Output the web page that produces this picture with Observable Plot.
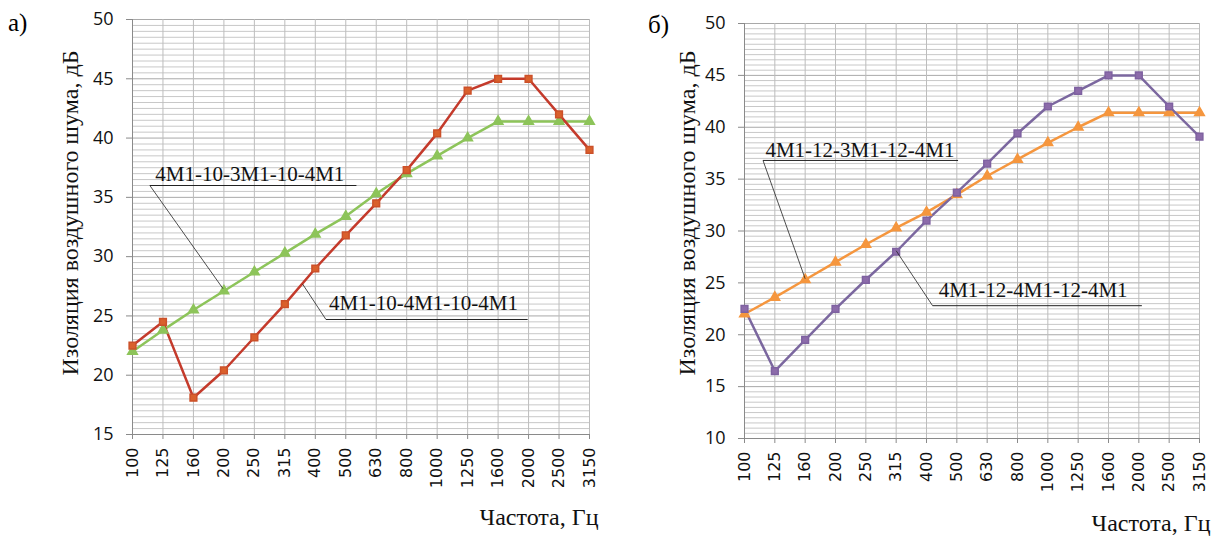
<!DOCTYPE html>
<html>
<head>
<meta charset="utf-8">
<script src="https://cdn.jsdelivr.net/npm/d3@7"></script>
<script src="https://cdn.jsdelivr.net/npm/@observablehq/plot@0.6"></script>
<style>
  html, body { margin: 0; padding: 0; background: #fff; }
  #wrap { position: relative; width: 1216px; height: 538px; overflow: hidden; }
  .panel { position: absolute; top: 0; }
  .letter { position: absolute; font-family: "Liberation Serif", serif; font-size: 25px; line-height: 1; }
  g[aria-label="x-axis tick label"] { font-family: "DejaVu Sans", sans-serif; font-size: 16px; }
  g[aria-label="y-axis tick label"] { font-family: "Open Sans", sans-serif; font-size: 18px; }
</style>
</head>
<body>
<div id="wrap">
  <div class="letter" style="left:8px;top:10px;">а)</div>
  <div class="letter" style="left:648px;top:12px;">б)</div>
  <div id="pa" class="panel" style="left:0px;"></div>
  <div id="pb" class="panel" style="left:608px;"></div>
</div>
<script>
// ---------- data ----------
const freqs = ["100","125","160","200","250","315","400","500","630","800","1000","1250","1600","2000","2500","3150"];

// panel а)
const red4M1_10   = [22.5,24.5,18.1,20.4,23.2,26.0,29.0,31.8,34.5,37.3,40.4,44.0,45.0,45.0,42.0,39.0];
const green3M1_10 = [22.0,23.8,25.5,27.1,28.7,30.3,31.9,33.4,35.3,37.0,38.5,40.0,41.4,41.4,41.4,41.4];
// panel б)
const purple4M1_12 = [22.5,16.5,19.5,22.5,25.3,28.0,31.0,33.7,36.5,39.4,42.0,43.5,45.0,45.0,42.0,39.1];
const orange3M1_12 = [22.0,23.6,25.3,27.0,28.7,30.3,31.8,33.5,35.3,36.9,38.5,40.0,41.4,41.4,41.4,41.4];

const yTicksA = [15,20,25,30,35,40,45,50];
const yTicksB = [10,15,20,25,30,35,40,45,50];

const yTitle = "Изоляция воздушного шума, дБ";
const xTitle = "Частота, Гц";

// annotation labels (data coordinates: x = category index, y = dB)
const notesA = [
  {label:"4M1-10-3M1-10-4M1", tx:0.75, ty:36.4, ux1:0.57, ux2:7.35,  uy:36.0, px:2.97, py:27.3},
  {label:"4M1-10-4M1-10-4M1", tx:6.45, ty:25.5, ux1:6.35, ux2:12.97, uy:24.7, px:5.58, py:27.7}
];
const notesB = [
  {label:"4M1-12-3M1-12-4M1", tx:0.69, ty:37.1, ux1:0.61, ux2:7.04, uy:36.8, px:2.0, py:25.4},
  {label:"4M1-12-4M1-12-4M1", tx:6.4,  ty:23.6, ux1:6.2,  ux2:13.1, uy:22.8, px:5.0, py:28.1}
];

function panel(cfg) {
  const idx = d3.range(freqs.length);
  const lo = cfg.ticks[0], hi = cfg.ticks[cfg.ticks.length - 1];
  const minor = d3.range(lo, hi + 0.001, 0.5).filter(v => !cfg.ticks.includes(v));
  const serif = "Liberation Serif, serif";
  return Plot.plot({
    width: 608, height: 538,
    marginLeft: cfg.ml, marginRight: cfg.mr, marginTop: cfg.mt, marginBottom: cfg.mb,
    style: {fontFamily: "Open Sans", fontSize: "18px", background: "transparent", overflow: "visible"},
    x: {type: "linear", domain: [0, freqs.length - 1]},
    y: {domain: [lo, hi]},
    marks: [
      Plot.ruleY(minor, {stroke: "#c8c8c8", strokeWidth: 1}),
      Plot.ruleY(cfg.ticks, {stroke: "#a9a9a9", strokeWidth: 1}),
      Plot.ruleX(idx, {stroke: "#bdbdbd", strokeWidth: 1}),
      Plot.ruleX([0], {stroke: "#8a8a8a", strokeWidth: 1}),
      Plot.ruleY([lo], {stroke: "#8a8a8a", strokeWidth: 1}),
      Plot.axisY({ticks: cfg.ticks, tickSize: 6, tickPadding: 13, stroke: "#8a8a8a", fill: "#111", label: null}),
      Plot.axisX({ticks: idx, tickFormat: i => freqs[i], tickRotate: -90, tickSize: 5, tickPadding: 8,
                  stroke: "#8a8a8a", fill: "#111", label: null}),
      // series
      Plot.line(cfg.s2, {x: (d, i) => i, y: d => d, stroke: cfg.c2, strokeWidth: 2.5}),
      Plot.line(cfg.s1, {x: (d, i) => i, y: d => d, stroke: cfg.c1, strokeWidth: 2.5}),
      Plot.dot(cfg.s2, {x: (d, i) => i, y: d => d, symbol: "triangle", r: 3.6, fill: cfg.m2, stroke: cfg.m2}),
      Plot.dot(cfg.s1, {x: (d, i) => i, y: d => d, symbol: "square", r: 3.8, fill: cfg.m1, stroke: cfg.m1s}),
      // annotations
      Plot.link(cfg.notes, {x1: "ux1", x2: "ux2", y1: "uy", y2: "uy", stroke: "#222", strokeWidth: 1}),
      Plot.link(cfg.notes, {x1: "ux1", y1: "uy", x2: "px", y2: "py", stroke: "#222", strokeWidth: 0.8}),
      Plot.text(cfg.notes, {x: "tx", y: "ty", text: "label", textAnchor: "start", lineAnchor: "bottom",
                            fontFamily: serif, fontSize: 21, fill: "#111"}),
      // axis titles
      Plot.text([yTitle], {frameAnchor: "left", dx: cfg.ytdx, dy: cfg.ytdy, rotate: -90,
                           textAnchor: "middle", lineAnchor: "middle",
                           fontFamily: serif, fontSize: 24, fill: "#111"}),
      Plot.text([xTitle], {frameAnchor: "bottom-right", dx: cfg.xtdx, dy: cfg.xtdy, textAnchor: "end",
                           lineAnchor: "bottom", fontFamily: serif, fontSize: 24, fill: "#111"})
    ]
  });
}

document.getElementById("pa").appendChild(panel({
  ticks: yTicksA, ml: 132, mr: 19, mt: 19, mb: 104,
  s1: red4M1_10, s2: green3M1_10,
  c1: "#C43A2B", m1: "#D9602C", m1s: "#CC5029",
  c2: "#8DC45A", m2: "#8DC45A",
  notes: notesA, ytdx: -62, ytdy: -14, xtdx: 9, xtdy: 90
}));

document.getElementById("pb").appendChild(panel({
  ticks: yTicksB, ml: 136, mr: 17, mt: 23, mb: 100,
  s1: purple4M1_12, s2: orange3M1_12,
  c1: "#7B679F", m1: "#8C6BAA", m1s: "#7E61A0",
  c2: "#F5963E", m2: "#F5963E",
  notes: notesB, ytdx: -57, ytdy: -18, xtdx: 11, xtdy: 92
}));
</script>
</body>
</html>
